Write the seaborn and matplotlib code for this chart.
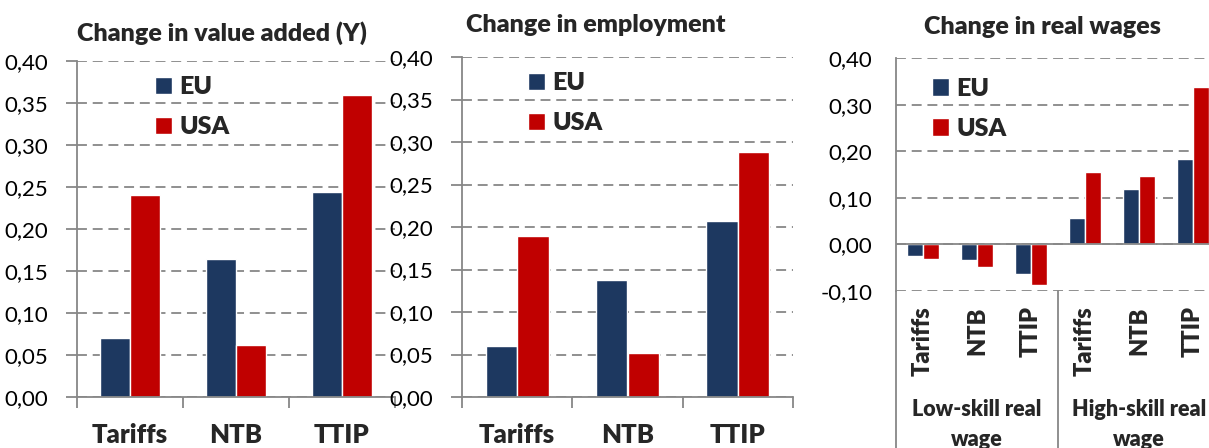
import matplotlib
matplotlib.use("Agg")
import matplotlib.pyplot as plt
import matplotlib.transforms as mtransforms
from matplotlib.patches import Patch
from matplotlib.ticker import FuncFormatter
import pandas as pd
import seaborn as sns

# data
policies = ["Tariffs", "NTB", "TTIP"]
regions = ["EU", "USA"]

va_eu = [0.070, 0.164, 0.244]
va_usa = [0.240, 0.062, 0.359]

emp_eu = [0.060, 0.138, 0.207]
emp_usa = [0.190, 0.052, 0.288]

wage_groups = ["Low-skill real\nwage", "High-skill real\nwage"]
wage_eu = [-0.024, -0.034, -0.063, 0.057, 0.118, 0.183]
wage_usa = [-0.031, -0.049, -0.087, 0.155, 0.146, 0.338]

titles = ["Change in value added (Y)", "Change in employment", "Change in real wages"]
yticks_top = [0.0, 0.05, 0.10, 0.15, 0.20, 0.25, 0.30, 0.35, 0.40]
yticks_wage = [-0.10, 0.0, 0.10, 0.20, 0.30, 0.40]

navy = "#1D3860"
red = "#C00000"
gray = "#878787"
BOLD = 'heavy'

sns.set_style("white")
plt.rcParams['font.family'] = ['Lato', 'DejaVu Sans']

W, H = 1209, 448
fig = plt.figure(figsize=(W / 100, H / 100), dpi=100)


def px_axes(left, top, right, bottom):
    return fig.add_axes([left / W, 1 - bottom / H, (right - left) / W, (bottom - top) / H])


def comma(v, pos):
    return f"{v:.2f}".replace(".", ",")


def long_df(cats, eu, usa):
    return pd.DataFrame({"cat": list(cats) * 2,
                         "region": ["EU"] * len(cats) + ["USA"] * len(cats),
                         "val": list(eu) + list(usa)})


def style(ax, yticks, ylim, tick_len, pad):
    ax.set_ylim(ylim)
    ax.set_yticks(yticks)
    ax.yaxis.set_major_formatter(FuncFormatter(comma))
    ax.grid(axis='y', color=gray, linestyle=(0, (5.5, 3.2)), linewidth=1.3)
    ax.grid(axis='x', visible=False)
    ax.set_axisbelow(True)
    for s in ['top', 'right']:
        ax.spines[s].set_visible(False)
    for s in ['left', 'bottom']:
        ax.spines[s].set_color(gray)
        ax.spines[s].set_linewidth(1.3)
    ax.tick_params(axis='y', left=True, length=tick_len, width=1.3, color=gray,
                   pad=pad, labelsize=16, labelcolor='black')
    ax.set_xlabel('')
    ax.set_ylabel('')
    ax.set_facecolor('none')


def add_legend(ax, x, y):
    handles = [Patch(facecolor=navy, label="EU"), Patch(facecolor=red, label="USA")]
    ax.legend(handles=handles, loc='upper left', bbox_to_anchor=(x, y), frameon=False,
              prop={'weight': BOLD, 'size': 18}, handlelength=0.68, handleheight=0.68,
              handletextpad=0.3, labelspacing=0.72, borderpad=0, borderaxespad=0)


# panel 1 and 2: simple grouped bars
cat_w = 110.5
panels = [
    (77, 61, 395, 397, va_eu, va_usa),
    (462, 57, 793, 397, emp_eu, emp_usa),
]
for i, (l, t, r, b, eu, usa) in enumerate(panels):
    ax = px_axes(l, t, r, b)
    sns.barplot(data=long_df(policies, eu, usa), x="cat", y="val", hue="region",
                order=policies, hue_order=regions, palette=[navy, red],
                width=0.57, saturation=1, errorbar=None, legend=False, ax=ax)
    style(ax, yticks_top, (0, 0.40), 8, 13)
    ax.set_xlim(-0.5, -0.5 + (r - l) / cat_w)
    ax.set_xticks([0, 1, 2])
    ax.set_xticklabels(policies, fontsize=18.5, fontweight=BOLD)
    ax.set_xticks([-0.5, 0.5, 1.5, 2.5], minor=True)
    ax.tick_params(axis='x', which='major', length=0, pad=19)
    ax.tick_params(axis='x', which='minor', bottom=True, length=8, width=1.3, color=gray)
    add_legend(ax, 0.245 if i == 0 else 0.2, 0.955)

# panel 3: wages, two level categories
wage_keys = [f"{g}|{p}" for g in wage_groups for p in policies]
ax3 = px_axes(896, 58, 1220, 291)
sns.barplot(data=long_df(wage_keys, wage_eu, wage_usa), x="cat", y="val", hue="region",
            order=wage_keys, hue_order=regions, palette=[navy, red],
            width=0.575, saturation=1, errorbar=None, legend=False, ax=ax3)
style(ax3, yticks_wage, (-0.10, 0.40), 0, 17)
ax3.set_xlim(-0.5, 5.5)
ax3.spines['bottom'].set_visible(False)
ax3.axhline(0, color=gray, linewidth=1.3, zorder=1.5)
ax3.set_xticks(range(len(wage_keys)))
ax3.set_xticklabels(policies * 2, rotation=90, fontsize=17, fontweight=BOLD, va='top')
ax3.tick_params(axis='x', length=0, pad=11)
trans = mtransforms.blended_transform_factory(ax3.transData, ax3.transAxes)
for xs in [-0.5, 2.5, 5.5]:
    ax3.plot([xs, xs], [0, -0.7], color=gray, linewidth=1.3, transform=trans, clip_on=False)
for gi, g in enumerate(wage_groups):
    ax3.text(1 + 3 * gi, -0.462, g, transform=trans, ha='center', va='top',
             fontsize=15.5, fontweight=BOLD, linespacing=1.55)
add_legend(ax3, 0.11, 0.915)

# titles
fig.text(222 / W, 1 - 41 / H, titles[0], ha='center', va='baseline', fontsize=18, fontweight=BOLD)
fig.text(596 / W, 1 - 32 / H, titles[1], ha='center', va='baseline', fontsize=18, fontweight=BOLD)
fig.text(1042 / W, 1 - 34 / H, titles[2], ha='center', va='baseline', fontsize=18, fontweight=BOLD)

fig.savefig("out.png", dpi=100)
